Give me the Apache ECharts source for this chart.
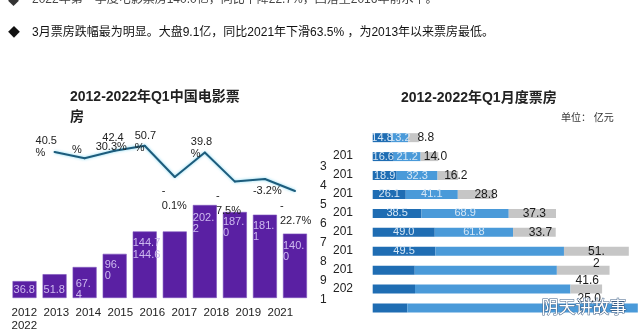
<!DOCTYPE html>
<html><head><meta charset="utf-8">
<script src="https://cdn.jsdelivr.net/npm/echarts@6/dist/echarts.min.js"></script>
<style>html,body{margin:0;padding:0;background:#fff}#c{width:640px;height:332px}</style>
</head><body><div id="c"></div>
<script>
// ---- data ----
const years = ['2012','2013','2014','2015','2016','2017','2018','2019','2021','2022'];
const xTickLabels = ['2012','2013','2014','2015','2016','2017','2018','2019','2021'];
const q1Box = [36.8, 51.8, 67.4, 96.0, 144.7, 144.6, 202.2, 187.0, 181.1, 140.0];
const growthPct = [null, 40.5, 30.3, 42.4, 50.7, -0.1, 39.8, -7.5, -3.2, -22.7];
const janBox = [14.8, 16.6, 18.9, 26.1, 38.5, 49.0, 49.5, 33.2, 33.4, 27.3];
const febBox = [13.2, 21.2, 32.3, 41.1, 68.9, 61.8, 101.5, 112.2, 122.7, 182.0];
const marBox = [8.8, 14.0, 16.2, 28.8, 37.3, 33.7, 51.2, 41.6, 25.0, null];

// ---- styling helpers (label placement only) ----
const FONT = '"Liberation Sans", "Noto Sans CJK SC", sans-serif';
const lineLabelPos = [null, [-18,-16],[12,-16],[10,-18],[-9,-15],[-12,7],[-13,-15],[-18,8],[-11,7],[-14,8]];
const lineLabelMode = [null,'pct','one','split','pct','neg','pct','neg','one','neg'];
const barLabelPos = [[1,3],[1,10],[3,11],[2,6],[0,6],[-30,18],[0,7],[0,4],[0,6],[0,7]];
const barLabelWrap = [0,0,1,1,0,0,1,1,1,1];
const marLabelOff = [[12,0],[6,0],[8,0],[10,0],[2,0],[6,0],[0,6],[4,11],[3,10],[0,0]];

function lineText(v, mode) {
  const s = v.toFixed(1);
  if (mode === 'one') return s + '%';
  if (mode === 'neg') return '-\n' + Math.abs(v).toFixed(1) + '%';
  if (mode === 'split') return '{a|' + s + '}\n{b|%}';
  return s + '\n%';
}
function barText(v, wrap) {
  const s = v.toFixed(1);
  return wrap ? s.slice(0, s.length - 1) + '\n' + s.slice(-1) : s;
}

const lineData = growthPct.map((v, i) => v === null ? null : ({
  value: v,
  label: { show: true, position: lineLabelPos[i],
           align: lineLabelMode[i] === 'split' ? 'right' : 'left', verticalAlign: 'top',
           formatter: lineText(v, lineLabelMode[i]),
           lineHeight: lineLabelMode[i] === 'neg' ? 15 : 12,
           rich: { a: { fontSize: 11, color: '#222' }, b: { fontSize: 11, color: '#222', padding: [0, 42, 0, 0] } } }
}));
const barData = q1Box.map((v, i) => ({
  value: v,
  label: { show: true, position: barLabelPos[i], align: 'left', verticalAlign: 'top',
           formatter: barText(v, barLabelWrap[i]) }
}));
const janData = janBox.map((v, i) => ({ value: v, label: { show: i <= 6 } }));
const febData = febBox.map((v, i) => ({ value: v, label: { show: i <= 5 } }));
const marData = marBox.map((v, i) => ({
  value: v,
  label: { show: v !== null, offset: marLabelOff[i],
           formatter: v === null ? '' : (i === 6 ? barText(v, 1) : v.toFixed(1)) }
}));
const fmt1 = p => Number(p.value).toFixed(1);

const chart = echarts.init(document.getElementById('c'), null, { renderer: 'canvas' });
chart.setOption({
  animation: false,
  backgroundColor: '#ffffff',
  textStyle: { fontFamily: FONT },
  title: [
    { text: '2012-2022年Q1中国电影票房', left: 65, top: 82,
      textStyle: { fontSize: 14, fontWeight: 'bold', color: '#222', fontFamily: FONT,
                   width: 172, overflow: 'break', lineHeight: 20 } },
    { text: '2012-2022年Q1月度票房', left: 396, top: 86,
      textStyle: { fontSize: 14, fontWeight: 'bold', color: '#222', fontFamily: FONT } },
    { text: '单位： 亿元', left: 556, top: 108,
      textStyle: { fontSize: 10, fontWeight: 'normal', color: '#333', fontFamily: FONT } }
  ],
  grid: [
    { left: 9.5, width: 300.5, top: 130, bottom: 34 },
    { left: 8.3, width: 288, top: 290, bottom: 30.5 },
    { left: 372.7, right: 1.3, top: 128.2, bottom: 14.5 }
  ],
  xAxis: [
    { type: 'category', gridIndex: 0, data: years, axisLine: { show: false },
      axisTick: { show: false }, axisLabel: { show: false } },
    { type: 'category', gridIndex: 1, data: xTickLabels, axisLine: { show: false },
      axisTick: { show: false },
      axisLabel: { interval: 0, fontSize: 11.5, color: '#222', margin: 8, lineHeight: 13,
                   formatter: (v, i) => i === 0 ? v + '\n' + years[years.length - 1] : v } },
    { type: 'value', gridIndex: 2, min: 0, max: 210, show: false }
  ],
  yAxis: [
    { type: 'value', gridIndex: 0, min: 0, max: 365.2, show: false },
    { type: 'value', gridIndex: 0, min: -196.15, max: 76.15, show: false },
    { type: 'value', gridIndex: 1, show: false },
    { type: 'category', gridIndex: 2, data: years, inverse: true,
      axisLine: { show: false }, axisTick: { show: false },
      axisLabel: { align: 'left', margin: 52.7, color: '#222', fontSize: 12, lineHeight: 11,
                   padding: [10, 0, 0, 0],
                   formatter: v => '{a|' + v.slice(0, 3) + '}\n{b|' + v.slice(3) + '}',
                   rich: { a: { padding: [0, 0, 0, 13], fontSize: 12, color: '#222' },
                           b: { fontSize: 12, color: '#222' } } } }
  ],
  series: [
    { type: 'bar', xAxisIndex: 0, yAxisIndex: 0, data: barData, barWidth: 24,
      itemStyle: { color: '#5a20a3', borderColor: '#7d55bd', borderWidth: 0.6 },
      label: { color: '#cdb9ef', fontSize: 11, lineHeight: 11, fontFamily: FONT } },
    { type: 'line', xAxisIndex: 0, yAxisIndex: 1, data: lineData, symbol: 'circle',
      symbolSize: 2, connectNulls: false,
      itemStyle: { color: '#1d5c7c' },
      lineStyle: { color: '#1d5c7c', width: 2, shadowColor: 'rgba(110,210,240,0.9)', shadowBlur: 3 },
      label: { color: '#222', fontSize: 11, fontFamily: FONT } },
    { type: 'bar', xAxisIndex: 2, yAxisIndex: 3, stack: 'm', data: janData, barWidth: 9,
      itemStyle: { color: '#1f6db3' },
      label: { position: 'inside', color: '#d5e6f5', fontSize: 11, fontFamily: FONT, formatter: fmt1 } },
    { type: 'bar', xAxisIndex: 2, yAxisIndex: 3, stack: 'm', data: febData, barWidth: 9,
      itemStyle: { color: '#4a9ad9' },
      label: { position: 'inside', color: '#d5e6f5', fontSize: 11, fontFamily: FONT, formatter: fmt1 } },
    { type: 'bar', xAxisIndex: 2, yAxisIndex: 3, stack: 'm', data: marData, barWidth: 9,
      itemStyle: { color: '#c6c6c6' },
      label: { position: 'inside', color: '#1a1a1a', fontSize: 12, lineHeight: 12, fontFamily: FONT } }
  ],
  graphic: [
    { type: 'text', left: 8, top: -4, style: { text: '◆', fontSize: 11, fill: '#333', fontFamily: FONT } },
    { type: 'text', left: 32, top: -6, style: { text: '2022年第一季度电影票房140.0亿，同比下降22.7%，回落至2016年前水平。',
      fontSize: 12, fill: '#444', fontFamily: FONT } },
    { type: 'text', left: 8, top: 28, style: { text: '◆', fontSize: 12, fill: '#111', fontFamily: FONT } },
    { type: 'text', left: 32, top: 27, style: { text: '3月票房跌幅最为明显。大盘9.1亿，同比2021年下滑63.5% ，为2013年以来票房最低。',
      fontSize: 12, fill: '#111', fontFamily: FONT } },
    { type: 'text', left: 541, top: 299, z: 100, style: { text: '阴天讲故事', fontSize: 17,
      fill: '#ffffff', stroke: '#3d5f86', lineWidth: 1, fontFamily: FONT } }
  ]
});
</script>
</body></html>
